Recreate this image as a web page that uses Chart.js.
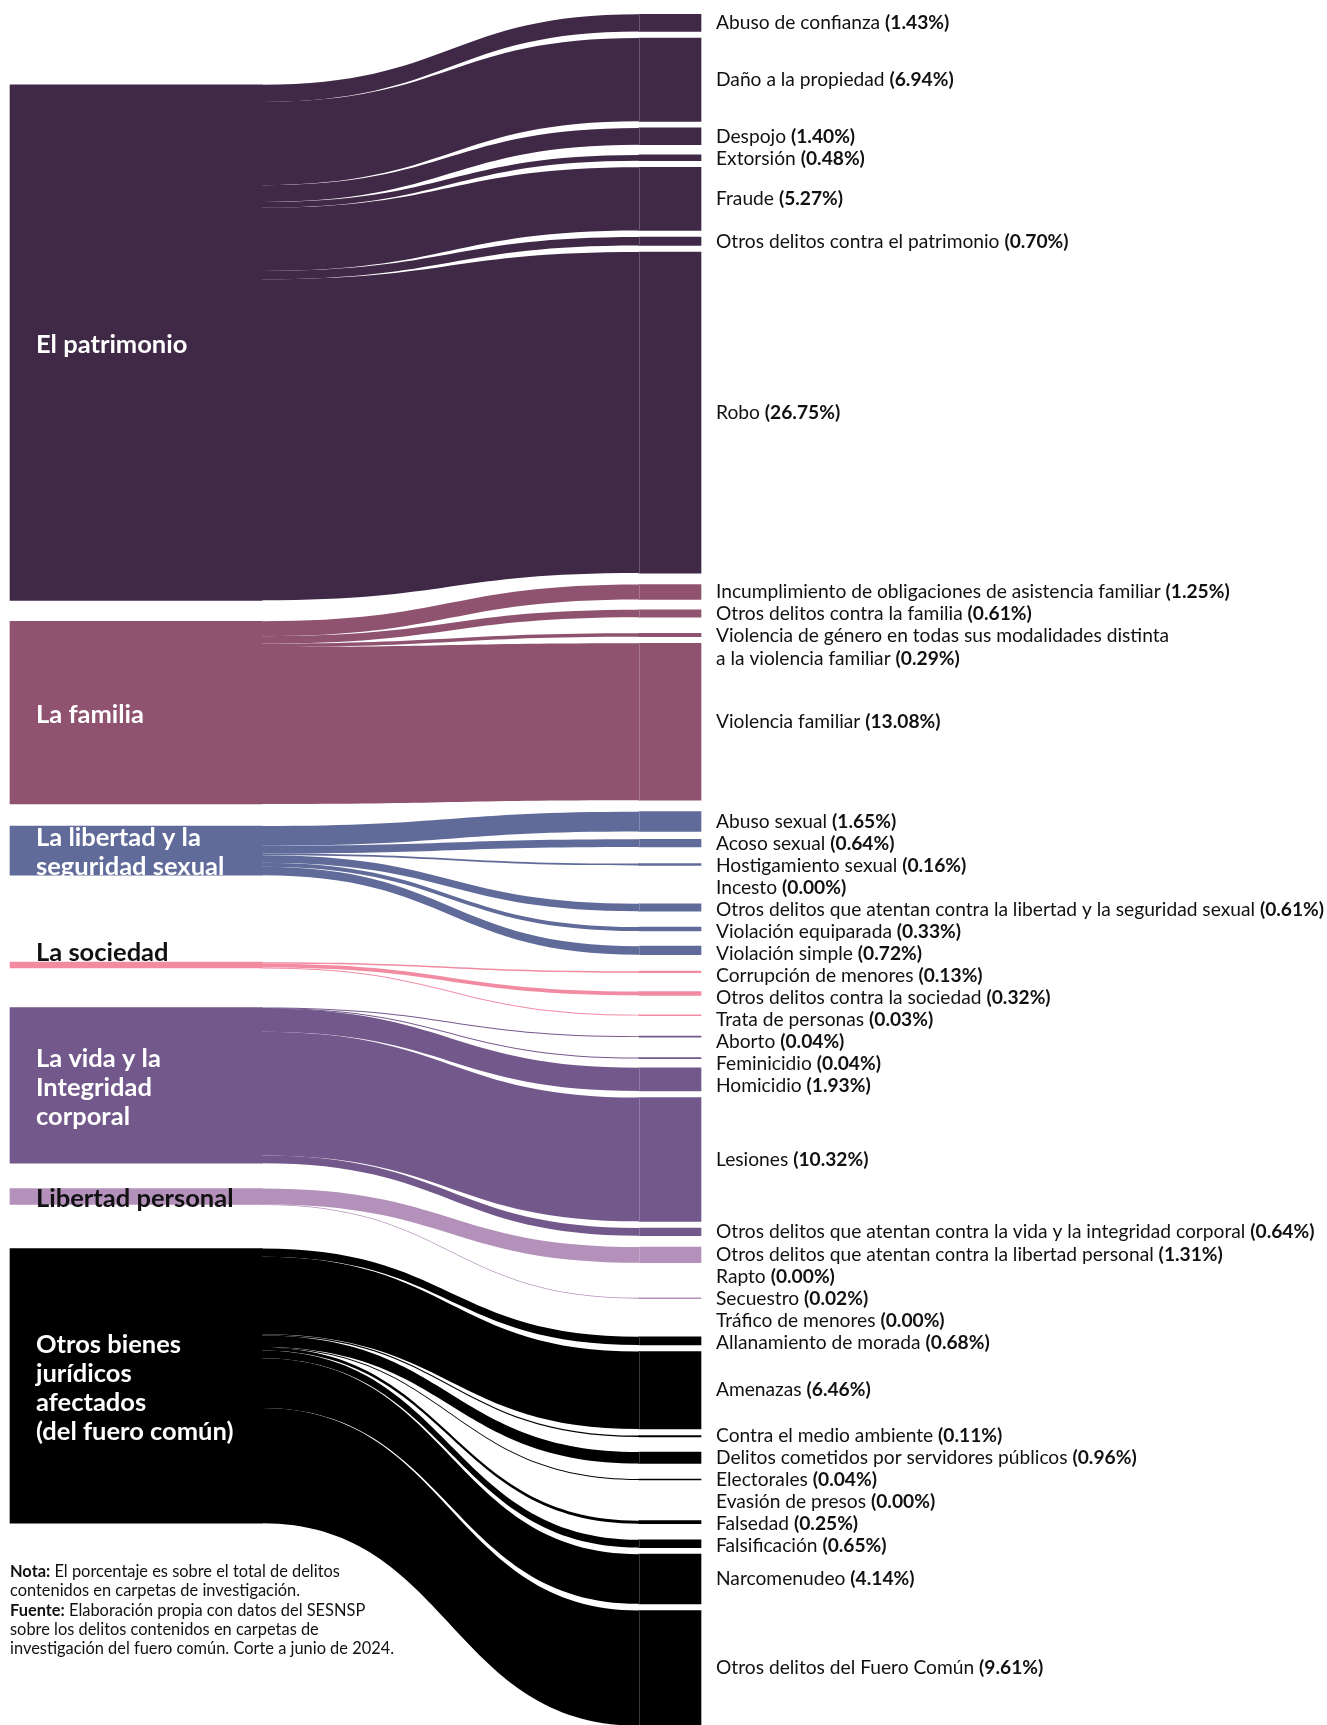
<!DOCTYPE html>
<html lang="es">
<head>
  <meta charset="UTF-8" />
  <title>Delitos por bien jurídico afectado</title>
  <script src="https://cdn.jsdelivr.net/npm/chart.js"></script>
  <style>
    html, body { margin: 0; padding: 0; background: #fff; }
    #wrap { position: relative; width: 1327px; height: 1725px; overflow: hidden; }
    #nota { position: absolute; left: 10px; top: 1561px; font: 16.4px Lato, sans-serif; line-height: 19.3px; color: #111; }
    #nota b { font-weight: 700; }
  </style>
</head>
<body>
  <div id="wrap">
    <canvas id="sankey" width="1327" height="1725"></canvas>
    <div id="nota">
      <b>Nota:</b> El porcentaje es sobre el total de delitos<br>
      contenidos en carpetas de investigación.<br>
      <b>Fuente:</b> Elaboración propia con datos del SESNSP<br>
      sobre los delitos contenidos en carpetas de<br>
      investigación del fuero común. Corte a junio de 2024.
    </div>
  </div>
  <script>
    // ---- datos ----
    const bienes = ['El patrimonio', 'La familia', 'La libertad y la seguridad sexual', 'La sociedad',
      'La vida y la Integridad corporal', 'Libertad personal', 'Otros bienes jurídicos afectados (del fuero común)'];
    const bienesLineas = [['El patrimonio'], ['La familia'], ['La libertad y la', 'seguridad sexual'], ['La sociedad'],
      ['La vida y la', 'Integridad', 'corporal'], ['Libertad personal'], ['Otros bienes', 'jurídicos', 'afectados', '(del fuero común)']];
    const coloresBien = ['#3f2946', '#8f536f', '#616b9a', '#f28ba1', '#73588b', '#b391ba', '#000000'];

    const delitos = [
      'Abuso de confianza', 'Daño a la propiedad', 'Despojo', 'Extorsión', 'Fraude', 'Otros delitos contra el patrimonio', 'Robo',
      'Incumplimiento de obligaciones de asistencia familiar', 'Otros delitos contra la familia',
      'Violencia de género en todas sus modalidades distinta\na la violencia familiar', 'Violencia familiar',
      'Abuso sexual', 'Acoso sexual', 'Hostigamiento sexual', 'Incesto', 'Otros delitos que atentan contra la libertad y la seguridad sexual',
      'Violación equiparada', 'Violación simple',
      'Corrupción de menores', 'Otros delitos contra la sociedad', 'Trata de personas',
      'Aborto', 'Feminicidio', 'Homicidio', 'Lesiones', 'Otros delitos que atentan contra la vida y la integridad corporal',
      'Otros delitos que atentan contra la libertad personal', 'Rapto', 'Secuestro', 'Tráfico de menores',
      'Allanamiento de morada', 'Amenazas', 'Contra el medio ambiente', 'Delitos cometidos por servidores públicos', 'Electorales',
      'Evasión de presos', 'Falsedad', 'Falsificación', 'Narcomenudeo', 'Otros delitos del Fuero Común'
    ];
    const porcentajes = [
      1.43, 6.94, 1.40, 0.48, 5.27, 0.70, 26.75,
      1.25, 0.61, 0.29, 13.08,
      1.65, 0.64, 0.16, 0.00, 0.61, 0.33, 0.72,
      0.13, 0.32, 0.03,
      0.04, 0.04, 1.93, 10.32, 0.64,
      1.31, 0.00, 0.02, 0.00,
      0.68, 6.46, 0.11, 0.96, 0.04, 0.00, 0.25, 0.65, 4.14, 9.61
    ];
    const bienDelito = [
      0, 0, 0, 0, 0, 0, 0,
      1, 1, 1, 1,
      2, 2, 2, 2, 2, 2, 2,
      3, 3, 3,
      4, 4, 4, 4, 4,
      5, 5, 5, 5,
      6, 6, 6, 6, 6, 6, 6, 6, 6, 6
    ];

    // ---- disposición (en puntos porcentuales del eje y) ----
    const W = 1327, H = 1725;
    const pxPorPunto = 12;
    const yMax = H / pxPorPunto;
    const espacioAntesBien = [7.06, 1.74, 1.83, 7.24, 3.30, 2.11, 3.67];
    const primerTope = 1.19, separacion = 0.55, separacionGrupo = 0.95, pasoEtiqueta = 1.79;
    const centroIzq = 136, anchoIzq = 252, centroDer = 670, anchoDer = 62;
    const fuente = 'Lato, sans-serif';

    // nodos izquierdos
    const totalBien = bienes.map((b, i) => porcentajes.reduce((a, v, j) => a + (bienDelito[j] === i ? v : 0), 0));
    const topeBien = [];
    let cursor = 0;
    totalBien.forEach((t, i) => {
      cursor += espacioAntesBien[i];
      topeBien.push(cursor);
      cursor += t;
    });

    // nodos derechos
    const topeDelito = [];
    let prevFin = 0, prevCentro = 0;
    porcentajes.forEach((v, i) => {
      let tope;
      if (i === 0) tope = primerTope;
      else {
        const sep = bienDelito[i] === bienDelito[i - 1] ? separacion : separacionGrupo;
        tope = Math.max(prevFin + sep, prevCentro + pasoEtiqueta - v / 2);
      }
      topeDelito.push(tope);
      prevFin = tope + v;
      prevCentro = tope + v / 2;
    });

    const conjuntoIzq = {
      label: 'Bienes jurídicos',
      xAxisID: 'x',
      grouped: false,
      data: totalBien.map((t, i) => ({ x: 0, y: [topeBien[i], topeBien[i] + t] })),
      backgroundColor: coloresBien,
      barThickness: anchoIzq,
      clip: false
    };
    const conVisibles = porcentajes.map((v, i) => i).filter(i => porcentajes[i] > 0);
    const conjuntoDer = {
      label: 'Delitos',
      xAxisID: 'x2',
      grouped: false,
      data: conVisibles.map(i => ({ x: 1, y: [topeDelito[i], topeDelito[i] + porcentajes[i]] })),
      backgroundColor: conVisibles.map(i => coloresBien[bienDelito[i]]),
      barThickness: anchoDer,
      minBarLength: 1,
      clip: false
    };

    // flujos entre columnas y etiquetas
    const flujos = {
      id: 'flujos',
      beforeDatasetsDraw(chart) {
        const { ctx } = chart;
        const y = chart.scales.y;
        const x0 = chart.scales.x.getPixelForValue(0) + anchoIzq / 2;
        const x1 = chart.scales.x2.getPixelForValue(1) - anchoDer / 2;
        const xm = (x0 + x1) / 2;
        ctx.save();
        bienes.forEach((b, i) => {
          let sy = topeBien[i];
          porcentajes.forEach((v, j) => {
            if (bienDelito[j] !== i || v <= 0) return;
            let a0 = y.getPixelForValue(sy), b0 = y.getPixelForValue(sy + v);
            let a1 = y.getPixelForValue(topeDelito[j]), b1 = y.getPixelForValue(topeDelito[j] + v);
            if (b0 - a0 < 0.9) { b0 = a0 + 0.9; b1 = a1 + 0.9; }
            ctx.beginPath();
            ctx.moveTo(x0 - 1, a0);
            ctx.lineTo(x0, a0);
            ctx.bezierCurveTo(xm, a0, xm, a1, x1, a1);
            ctx.lineTo(x1 + 1, a1);
            ctx.lineTo(x1 + 1, b1);
            ctx.lineTo(x1, b1);
            ctx.bezierCurveTo(xm, b1, xm, b0, x0, b0);
            ctx.lineTo(x0 - 1, b0);
            ctx.closePath();
            ctx.fillStyle = coloresBien[i];
            ctx.fill();
            sy += v;
          });
        });
        ctx.restore();
      },
      afterDatasetsDraw(chart) {
        const { ctx } = chart;
        const y = chart.scales.y;
        const xIzq = chart.scales.x.getPixelForValue(0) - anchoIzq / 2;
        const xDer = chart.scales.x2.getPixelForValue(1) - anchoDer / 2;
        ctx.save();
        // línea clara en el borde de los nodos derechos
        porcentajes.forEach((v, j) => {
          if (v < 0.5) return;
          const t = y.getPixelForValue(topeDelito[j]);
          ctx.fillStyle = 'rgba(255,255,255,0.22)';
          ctx.fillRect(xDer, t, 1, y.getPixelForValue(topeDelito[j] + v) - t);
        });

        // etiquetas de los bienes
        const lhIzq = 29;
        ctx.textBaseline = 'middle';
        ctx.font = '700 25.5px ' + fuente;
        bienesLineas.forEach((lineas, i) => {
          const t = y.getPixelForValue(topeBien[i]);
          const bt = y.getPixelForValue(topeBien[i] + totalBien[i]);
          const h = bt - t;
          let c = (t + bt) / 2 + 2;
          if (h < 12) c = t - 9;
          ctx.fillStyle = h >= 30 ? '#ffffff' : '#111111';
          lineas.forEach((l, k) => {
            ctx.fillText(l, xIzq + 26, c + (k - (lineas.length - 1) / 2) * lhIzq);
          });
        });

        // etiquetas de los delitos
        const lh = 22.4;
        const xt = xDer + anchoDer + 15;
        let ultima = -Infinity;
        delitos.forEach((d, j) => {
          const lineas = d.split('\n');
          const c = y.getPixelForValue(topeDelito[j] + porcentajes[j] / 2);
          let y0 = c - (lineas.length - 1) * lh / 2;
          if (y0 < ultima + 22) y0 = ultima + 22;
          lineas.forEach((l, k) => {
            const yy = y0 + k * lh;
            ctx.fillStyle = '#111111';
            ctx.font = '400 19.2px ' + fuente;
            const texto = k === lineas.length - 1 ? l + ' ' : l;
            ctx.fillText(texto, xt, yy);
            if (k === lineas.length - 1) {
              const w = ctx.measureText(texto).width;
              ctx.font = '700 19.2px ' + fuente;
              ctx.fillText('(' + porcentajes[j].toFixed(2) + '%)', xt + w, yy);
            }
          });
          ultima = y0 + (lineas.length - 1) * lh;
        });
        ctx.restore();
      }
    };

    const ctx = document.getElementById('sankey').getContext('2d');
    new Chart(ctx, {
      type: 'bar',
      data: { datasets: [conjuntoIzq, conjuntoDer] },
      options: {
        responsive: false,
        animation: false,
        devicePixelRatio: 1,
        layout: { padding: { left: centroIzq, right: W - centroDer, top: 0, bottom: 0 } },
        plugins: { legend: { display: false }, tooltip: { enabled: false } },
        scales: {
          x: { type: 'linear', min: 0, max: 1, offset: false, display: false },
          x2: { type: 'linear', min: 0, max: 1, offset: false, display: false },
          y: { type: 'linear', min: 0, max: yMax, reverse: true, display: false }
        }
      },
      plugins: [flujos]
    });
  </script>
</body>
</html>
